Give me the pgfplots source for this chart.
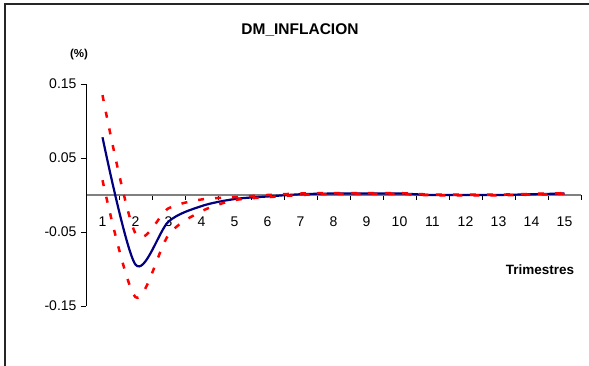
\documentclass[border=0pt]{standalone}
\usepackage{pgfplots}
\pgfplotsset{compat=1.18}
\usepackage{fontspec}
\setmainfont{Liberation Sans}

\definecolor{navyline}{RGB}{0,0,128}
\definecolor{bandred}{RGB}{255,0,0}

% impulse response and its confidence band
\pgfplotstableread{
t  resp    upper   lower
1  0.078   0.135   0.020
2  -0.094  -0.052  -0.138
3  -0.036  -0.018  -0.054
4  -0.015  -0.006  -0.022
5  -0.0055 -0.003  -0.007
6  -0.002  0.000   -0.003
7  0.001   0.002   0.000
8  0.002   0.0025  0.0015
9  0.002   0.0025  0.0015
10 0.002   0.0025  0.0015
11 0.000   0.0005  -0.0005
12 0.000   0.0005  -0.0005
13 0.000   0.0005  -0.0005
14 0.001   0.0015  0.0005
15 0.002   0.0025  0.0015
}\irf

\begin{document}
\begin{tikzpicture}
\useasboundingbox (0,0) rectangle (589pt,366pt);
% chart frame
\draw[line width=1.2pt, black!85] (5pt,0pt) -- (5pt,362pt) -- (589pt,362pt);
\begin{axis}[
  at={(86pt,60pt)}, anchor=south west,
  scale only axis, width=495pt, height=222pt,
  xmin=0.5, xmax=15.5, ymin=-0.15, ymax=0.15,
  axis x line*=middle, axis y line*=left,
  hide obscured x ticks=false,
  x axis line style={draw=gray, line width=1.2pt},
  y axis line style={draw=black, line width=0.9pt},
  xtick={0.5,1.5,...,15.5},
  x tick label as interval,
  xticklabels={1,2,3,4,5,6,7,8,9,10,11,12,13,14,15},
  ytick={-0.15,-0.05,0.05,0.15},
  yticklabels={-0.15,-0.05,0.05,0.15},
  tick align=outside,
  major tick length=5pt,
  tick style={black, line width=0.8pt},
  ticklabel style={font=\fontsize{14}{16}\selectfont},
  xticklabel style={yshift=-13pt},
  yticklabel style={xshift=-1pt},
  clip=false,
]
\addplot[navyline, line width=2.2pt, smooth] table[x=t, y=resp] {\irf};
\addplot[bandred, line width=2.5pt, smooth, dash pattern=on 6pt off 11pt] table[x=t, y=upper] {\irf};
\addplot[bandred, line width=2.5pt, smooth, dash pattern=on 6pt off 11pt] table[x=t, y=lower] {\irf};
\end{axis}
\node[font=\bfseries\fontsize{15.5}{17}\selectfont] at (300pt,336pt) {DM\_INFLACION};
\node[font=\bfseries\fontsize{11.5}{13}\selectfont] at (79pt,311pt) {(\%)};
\node[font=\bfseries\fontsize{13.5}{15}\selectfont] at (540pt,96pt) {Trimestres};
\end{tikzpicture}
\end{document}
